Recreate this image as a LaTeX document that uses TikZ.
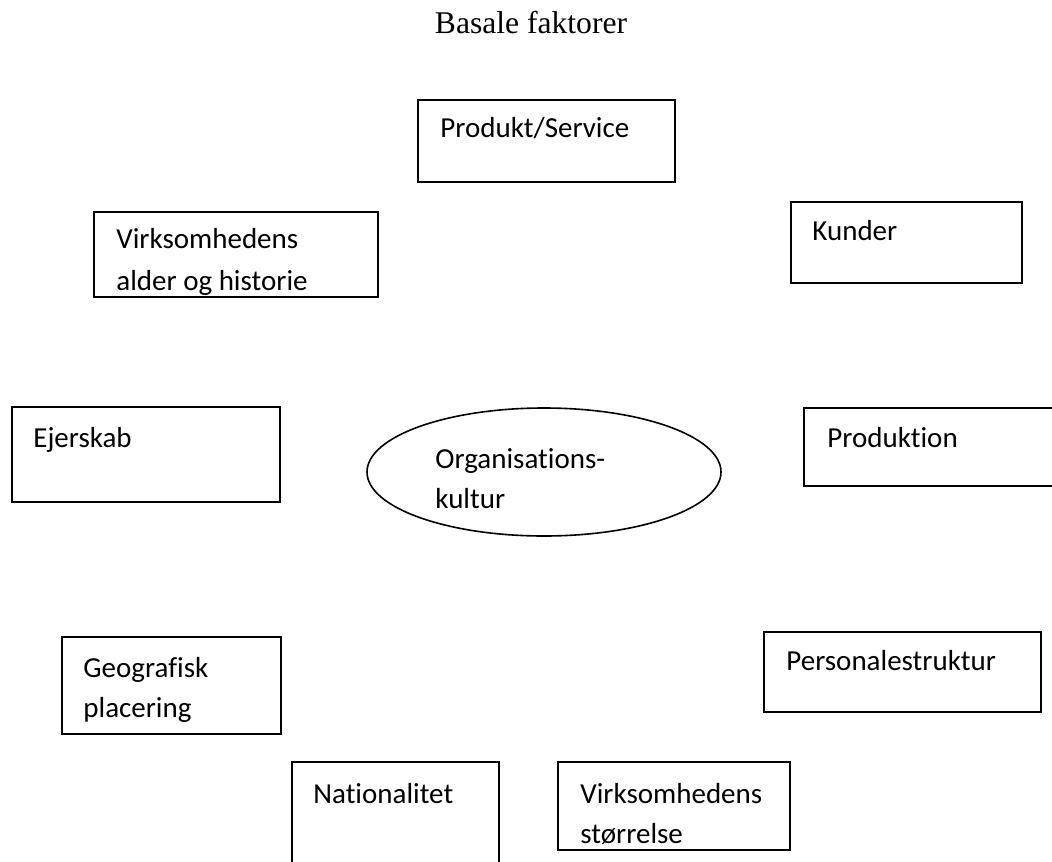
\documentclass[tikz,border=0pt]{standalone}
\usepackage{fontspec}
\setmainfont{Carlito}[Ligatures={NoCommon}]
\newfontfamily\titlefont{Liberation Serif}

\begin{document}
\begin{tikzpicture}[x=0.5pt,y=-0.5pt,
  box/.style={draw=black,line width=1pt},
  lbl/.style={anchor=base west,inner sep=0pt,font=\fontsize{14.5}{20}\selectfont}]
  \useasboundingbox (0,0) rectangle (1052,861);
  \clip (0,0) rectangle (1052,861);
  % title
  \node[anchor=base,inner sep=0pt,font=\titlefont\fontsize{15.8}{19}\selectfont] (title) at (531,34) {Basale faktorer};
  % top row
  \draw[box] (418,100) rectangle (675,182);
  \node[lbl] (produkt) at (440,138) {Produkt/Service};
  \draw[box] (94,212) rectangle (378,297);
  \node[lbl] (alderA) at (116,248) {Virksomhedens};
  \begin{scope}
    \clip (95,213) rectangle (377,296);
    \node[lbl] (alderB) at (116,290) {alder og historie};
  \end{scope}
  \draw[box] (791,202) rectangle (1022,283);
  \node[lbl] (kunder) at (812,240) {Kunder};
  % middle row
  \draw[box] (12,407) rectangle (280,502);
  \node[lbl] (ejer) at (33,447) {Ejerskab};
  \draw[line width=0.8pt] (544,472) ellipse (177 and 64);
  \node[lbl] (orgA) at (435,468) {Organisations-};
  \node[lbl] (orgB) at (435,508) {kultur};
  \draw[box] (804,408) rectangle (1070,486);
  \node[lbl] (produktion) at (827,447) {Produktion};
  % lower row
  \draw[box] (62,637) rectangle (281,734);
  \node[lbl] (geoA) at (83,677) {Geografisk};
  \node[lbl] (geoB) at (83,717) {placering};
  \draw[box] (764,632) rectangle (1041,712);
  \node[lbl] (personale) at (786,670) {Personalestruktur};
  % bottom row
  \draw[box] (292,762) rectangle (499,880);
  \node[lbl] (nation) at (313,803) {Nationalitet};
  \draw[box] (558,762) rectangle (790,850);
  \node[lbl] (stoerA) at (580,803) {Virksomhedens};
  \node[lbl] (stoerB) at (580,843) {størrelse};
\end{tikzpicture}
\end{document}
